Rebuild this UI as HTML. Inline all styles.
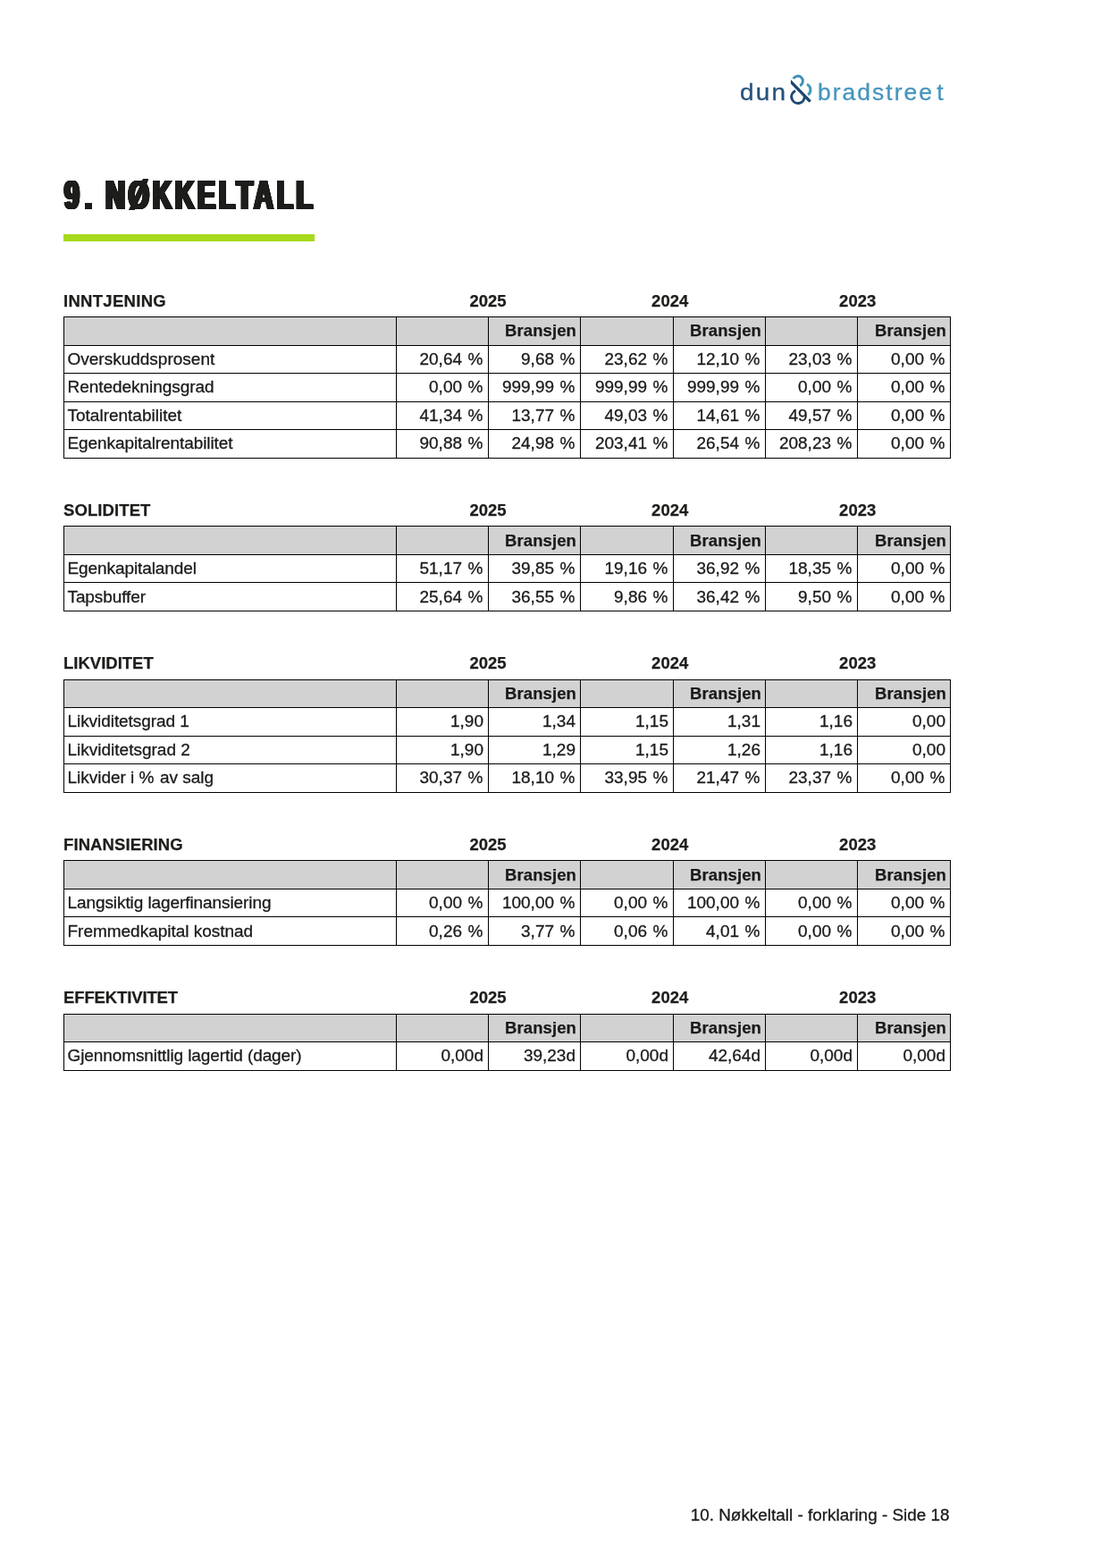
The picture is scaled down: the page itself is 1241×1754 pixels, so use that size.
<!DOCTYPE html>
<html lang="no"><head><meta charset="utf-8"><title>9. Nøkkeltall</title>
<style>
html,body{margin:0;padding:0;background:#fff;}
body{width:1241px;height:1754px;position:relative;overflow:hidden;font-family:"Liberation Sans",sans-serif;color:#1d1d1b;}
.abs{position:absolute;}
h1{position:absolute;left:72.1px;top:187.0px;margin:0;font-size:45.8px;line-height:64px;font-weight:bold;color:#1d1d1b;white-space:nowrap;transform-origin:0 50%;transform:scaleX(0.655);letter-spacing:5.55px;word-spacing:-0.7px;text-shadow:-2.5px -0.4px 0 #1d1d1b,-2.0px -0.4px 0 #1d1d1b,-1.5px -0.4px 0 #1d1d1b,-1.0px -0.4px 0 #1d1d1b,-0.5px -0.4px 0 #1d1d1b,0.0px -0.4px 0 #1d1d1b,0.5px -0.4px 0 #1d1d1b,1.0px -0.4px 0 #1d1d1b,1.5px -0.4px 0 #1d1d1b,2.0px -0.4px 0 #1d1d1b,2.5px -0.4px 0 #1d1d1b,-2.5px 0.4px 0 #1d1d1b,-2.0px 0.4px 0 #1d1d1b,-1.5px 0.4px 0 #1d1d1b,-1.0px 0.4px 0 #1d1d1b,-0.5px 0.4px 0 #1d1d1b,0.0px 0.4px 0 #1d1d1b,0.5px 0.4px 0 #1d1d1b,1.0px 0.4px 0 #1d1d1b,1.5px 0.4px 0 #1d1d1b,2.0px 0.4px 0 #1d1d1b,2.5px 0.4px 0 #1d1d1b,-2.5px 0.0px 0 #1d1d1b,-2.0px 0.0px 0 #1d1d1b,-1.5px 0.0px 0 #1d1d1b,-1.0px 0.0px 0 #1d1d1b,-0.5px 0.0px 0 #1d1d1b,0.5px 0.0px 0 #1d1d1b,1.0px 0.0px 0 #1d1d1b,1.5px 0.0px 0 #1d1d1b,2.0px 0.0px 0 #1d1d1b,2.5px 0.0px 0 #1d1d1b;}
.bar{position:absolute;left:71px;top:262px;width:281px;height:8px;background:#a6da1c;}
.sec{position:absolute;left:0;width:1241px;}
.lbl{position:absolute;font-weight:bold;font-size:18.5px;line-height:22px;white-space:nowrap;color:#1d1d1b;-webkit-text-stroke:0.25px #1d1d1b;}
.yr{position:absolute;font-weight:bold;font-size:18.5px;line-height:22px;width:100px;text-align:center;color:#1d1d1b;-webkit-text-stroke:0.25px #1d1d1b;}
.hl{position:absolute;height:1px;background:#000;}
.vl{position:absolute;width:1px;background:#000;}
.hd{position:absolute;background:#d2d2d2;}
.c{position:absolute;font-size:19px;line-height:22px;white-space:nowrap;color:#1a1a1a;-webkit-text-stroke:0.3px #1a1a1a;}
.r{text-align:right;}
.p{word-spacing:1.3px;}
.b{font-weight:bold;font-size:18.5px;letter-spacing:0.1px;-webkit-text-stroke:0.25px #1d1d1b;}
.logo{position:absolute;left:0;top:0;width:1241px;height:140px;}
.lg{position:absolute;top:86px;font-size:25px;line-height:34px;white-space:nowrap;transform-origin:0 50%;-webkit-text-stroke:0.3px;}
.dun{left:827.8px;color:#27527b;letter-spacing:1.9px;transform:scaleX(1.12);}
.brad{left:914.6px;color:#4795bd;letter-spacing:1.9px;transform:scaleX(1.06);}
.amp{position:absolute;left:880px;top:78px;}
.foot{position:absolute;right:178.5px;top:1684px;font-size:18.9px;line-height:22px;color:#1a1a1a;-webkit-text-stroke:0.3px #1a1a1a;white-space:nowrap;}
</style></head><body>
<div class="logo">
<span class="lg dun">dun</span>
<svg class="amp" width="34" height="44" viewBox="880 78 34 44" aria-label="&amp;">
<path d="M887.79,88.04 A5.64,5.64 0 1 1 895.14,95.82" fill="none" stroke="#3d8dba" stroke-width="2.9"/>
<path d="M902.99,94.24 A6.93,6.93 0 0 1 904.2,106.03" fill="none" stroke="#4199b4" stroke-width="3"/>
<path d="M890.07,101.59 A7.25,7.25 0 1 0 900.22,108.23" fill="none" stroke="#1f4b74" stroke-width="3"/>
<path d="M884.91,89.09 L907.87,112.46 L905.46,114.68 L884.91,93.73 Z" fill="#1d4670"/>
</svg>
<span class="lg brad">bradstree<span style="margin-left:3px">t</span></span>
</div>
<h1><span style="letter-spacing:9.3px">9</span>. NØKKELTALL</h1><div class="bar"></div>
<div class="sec" style="top:324px;height:189px">
<div class="lbl" style="left:71px;top:2px;letter-spacing:0.3px">INNTJENING</div>
<div class="yr" style="left:496px;top:2px">2025</div>
<div class="yr" style="left:699.7px;top:2px">2024</div>
<div class="yr" style="left:909.7px;top:2px">2023</div>
<div class="hd" style="left:71px;top:30px;width:992px;height:32px"></div>
<div class="hl" style="left:71px;top:30px;width:993px"></div>
<div class="hl" style="left:71px;top:62px;width:993px"></div>
<div class="hl" style="left:71px;top:93px;width:993px"></div>
<div class="hl" style="left:71px;top:125px;width:993px"></div>
<div class="hl" style="left:71px;top:156px;width:993px"></div>
<div class="hl" style="left:71px;top:188px;width:993px"></div>
<div class="vl" style="left:71px;top:30px;height:159px"></div>
<div class="vl" style="left:443px;top:30px;height:159px"></div>
<div class="vl" style="left:546px;top:30px;height:159px"></div>
<div class="vl" style="left:649px;top:30px;height:159px"></div>
<div class="vl" style="left:753px;top:30px;height:159px"></div>
<div class="vl" style="left:856px;top:30px;height:159px"></div>
<div class="vl" style="left:959px;top:30px;height:159px"></div>
<div class="vl" style="left:1063px;top:30px;height:159px"></div>
<div class="c r b" style="left:546px;width:99px;top:35px">Bransjen</div>
<div class="c r b" style="left:753px;width:99px;top:35px">Bransjen</div>
<div class="c r b" style="left:959px;width:100px;top:35px">Bransjen</div>
<div class="c" style="left:75.5px;top:67px">Overskuddsprosent</div>
<div class="c r p" style="left:443px;width:97.5px;top:67px">20,64 %</div>
<div class="c r p" style="left:546px;width:97.5px;top:67px">9,68 %</div>
<div class="c r p" style="left:649px;width:98.5px;top:67px">23,62 %</div>
<div class="c r p" style="left:753px;width:97.5px;top:67px">12,10 %</div>
<div class="c r p" style="left:856px;width:97.5px;top:67px">23,03 %</div>
<div class="c r p" style="left:959px;width:98.5px;top:67px">0,00 %</div>
<div class="c" style="left:75.5px;top:98px;letter-spacing:-0.04px">Rentedekningsgrad</div>
<div class="c r p" style="left:443px;width:97.5px;top:98px">0,00 %</div>
<div class="c r p" style="left:546px;width:97.5px;top:98px">999,99 %</div>
<div class="c r p" style="left:649px;width:98.5px;top:98px">999,99 %</div>
<div class="c r p" style="left:753px;width:97.5px;top:98px">999,99 %</div>
<div class="c r p" style="left:856px;width:97.5px;top:98px">0,00 %</div>
<div class="c r p" style="left:959px;width:98.5px;top:98px">0,00 %</div>
<div class="c" style="left:75.5px;top:130px">Totalrentabilitet</div>
<div class="c r p" style="left:443px;width:97.5px;top:130px">41,34 %</div>
<div class="c r p" style="left:546px;width:97.5px;top:130px">13,77 %</div>
<div class="c r p" style="left:649px;width:98.5px;top:130px">49,03 %</div>
<div class="c r p" style="left:753px;width:97.5px;top:130px">14,61 %</div>
<div class="c r p" style="left:856px;width:97.5px;top:130px">49,57 %</div>
<div class="c r p" style="left:959px;width:98.5px;top:130px">0,00 %</div>
<div class="c" style="left:75.5px;top:161px;letter-spacing:-0.09px">Egenkapitalrentabilitet</div>
<div class="c r p" style="left:443px;width:97.5px;top:161px">90,88 %</div>
<div class="c r p" style="left:546px;width:97.5px;top:161px">24,98 %</div>
<div class="c r p" style="left:649px;width:98.5px;top:161px">203,41 %</div>
<div class="c r p" style="left:753px;width:97.5px;top:161px">26,54 %</div>
<div class="c r p" style="left:856px;width:97.5px;top:161px">208,23 %</div>
<div class="c r p" style="left:959px;width:98.5px;top:161px">0,00 %</div>
</div>
<div class="sec" style="top:558px;height:126px">
<div class="lbl" style="left:71px;top:2px;letter-spacing:0.1px">SOLIDITET</div>
<div class="yr" style="left:496px;top:2px">2025</div>
<div class="yr" style="left:699.7px;top:2px">2024</div>
<div class="yr" style="left:909.7px;top:2px">2023</div>
<div class="hd" style="left:71px;top:30px;width:992px;height:32px"></div>
<div class="hl" style="left:71px;top:30px;width:993px"></div>
<div class="hl" style="left:71px;top:62px;width:993px"></div>
<div class="hl" style="left:71px;top:93px;width:993px"></div>
<div class="hl" style="left:71px;top:125px;width:993px"></div>
<div class="vl" style="left:71px;top:30px;height:96px"></div>
<div class="vl" style="left:443px;top:30px;height:96px"></div>
<div class="vl" style="left:546px;top:30px;height:96px"></div>
<div class="vl" style="left:649px;top:30px;height:96px"></div>
<div class="vl" style="left:753px;top:30px;height:96px"></div>
<div class="vl" style="left:856px;top:30px;height:96px"></div>
<div class="vl" style="left:959px;top:30px;height:96px"></div>
<div class="vl" style="left:1063px;top:30px;height:96px"></div>
<div class="c r b" style="left:546px;width:99px;top:36px">Bransjen</div>
<div class="c r b" style="left:753px;width:99px;top:36px">Bransjen</div>
<div class="c r b" style="left:959px;width:100px;top:36px">Bransjen</div>
<div class="c" style="left:75.5px;top:67px;letter-spacing:-0.09px">Egenkapitalandel</div>
<div class="c r p" style="left:443px;width:97.5px;top:67px">51,17 %</div>
<div class="c r p" style="left:546px;width:97.5px;top:67px">39,85 %</div>
<div class="c r p" style="left:649px;width:98.5px;top:67px">19,16 %</div>
<div class="c r p" style="left:753px;width:97.5px;top:67px">36,92 %</div>
<div class="c r p" style="left:856px;width:97.5px;top:67px">18,35 %</div>
<div class="c r p" style="left:959px;width:98.5px;top:67px">0,00 %</div>
<div class="c" style="left:75.5px;top:99px;letter-spacing:-0.1px">Tapsbuffer</div>
<div class="c r p" style="left:443px;width:97.5px;top:99px">25,64 %</div>
<div class="c r p" style="left:546px;width:97.5px;top:99px">36,55 %</div>
<div class="c r p" style="left:649px;width:98.5px;top:99px">9,86 %</div>
<div class="c r p" style="left:753px;width:97.5px;top:99px">36,42 %</div>
<div class="c r p" style="left:856px;width:97.5px;top:99px">9,50 %</div>
<div class="c r p" style="left:959px;width:98.5px;top:99px">0,00 %</div>
</div>
<div class="sec" style="top:730px;height:157px">
<div class="lbl" style="left:71px;top:1px;letter-spacing:0.0px">LIKVIDITET</div>
<div class="yr" style="left:496px;top:1px">2025</div>
<div class="yr" style="left:699.7px;top:1px">2024</div>
<div class="yr" style="left:909.7px;top:1px">2023</div>
<div class="hd" style="left:71px;top:30px;width:992px;height:31px"></div>
<div class="hl" style="left:71px;top:30px;width:993px"></div>
<div class="hl" style="left:71px;top:61px;width:993px"></div>
<div class="hl" style="left:71px;top:93px;width:993px"></div>
<div class="hl" style="left:71px;top:124px;width:993px"></div>
<div class="hl" style="left:71px;top:156px;width:993px"></div>
<div class="vl" style="left:71px;top:30px;height:127px"></div>
<div class="vl" style="left:443px;top:30px;height:127px"></div>
<div class="vl" style="left:546px;top:30px;height:127px"></div>
<div class="vl" style="left:649px;top:30px;height:127px"></div>
<div class="vl" style="left:753px;top:30px;height:127px"></div>
<div class="vl" style="left:856px;top:30px;height:127px"></div>
<div class="vl" style="left:959px;top:30px;height:127px"></div>
<div class="vl" style="left:1063px;top:30px;height:127px"></div>
<div class="c r b" style="left:546px;width:99px;top:35px">Bransjen</div>
<div class="c r b" style="left:753px;width:99px;top:35px">Bransjen</div>
<div class="c r b" style="left:959px;width:100px;top:35px">Bransjen</div>
<div class="c" style="left:75.5px;top:66px;letter-spacing:-0.06px">Likviditetsgrad 1</div>
<div class="c r" style="left:443px;width:98px;top:66px">1,90</div>
<div class="c r" style="left:546px;width:98px;top:66px">1,34</div>
<div class="c r" style="left:649px;width:99px;top:66px">1,15</div>
<div class="c r" style="left:753px;width:98px;top:66px">1,31</div>
<div class="c r" style="left:856px;width:98px;top:66px">1,16</div>
<div class="c r" style="left:959px;width:99px;top:66px">0,00</div>
<div class="c" style="left:75.5px;top:98px">Likviditetsgrad 2</div>
<div class="c r" style="left:443px;width:98px;top:98px">1,90</div>
<div class="c r" style="left:546px;width:98px;top:98px">1,29</div>
<div class="c r" style="left:649px;width:99px;top:98px">1,15</div>
<div class="c r" style="left:753px;width:98px;top:98px">1,26</div>
<div class="c r" style="left:856px;width:98px;top:98px">1,16</div>
<div class="c r" style="left:959px;width:99px;top:98px">0,00</div>
<div class="c" style="left:75.5px;top:129px;letter-spacing:-0.02px">Likvider i <span class="p">% </span>av salg</div>
<div class="c r p" style="left:443px;width:97.5px;top:129px">30,37 %</div>
<div class="c r p" style="left:546px;width:97.5px;top:129px">18,10 %</div>
<div class="c r p" style="left:649px;width:98.5px;top:129px">33,95 %</div>
<div class="c r p" style="left:753px;width:97.5px;top:129px">21,47 %</div>
<div class="c r p" style="left:856px;width:97.5px;top:129px">23,37 %</div>
<div class="c r p" style="left:959px;width:98.5px;top:129px">0,00 %</div>
</div>
<div class="sec" style="top:932px;height:126px">
<div class="lbl" style="left:71px;top:2px;letter-spacing:0.1px">FINANSIERING</div>
<div class="yr" style="left:496px;top:2px">2025</div>
<div class="yr" style="left:699.7px;top:2px">2024</div>
<div class="yr" style="left:909.7px;top:2px">2023</div>
<div class="hd" style="left:71px;top:30px;width:992px;height:32px"></div>
<div class="hl" style="left:71px;top:30px;width:993px"></div>
<div class="hl" style="left:71px;top:62px;width:993px"></div>
<div class="hl" style="left:71px;top:93px;width:993px"></div>
<div class="hl" style="left:71px;top:125px;width:993px"></div>
<div class="vl" style="left:71px;top:30px;height:96px"></div>
<div class="vl" style="left:443px;top:30px;height:96px"></div>
<div class="vl" style="left:546px;top:30px;height:96px"></div>
<div class="vl" style="left:649px;top:30px;height:96px"></div>
<div class="vl" style="left:753px;top:30px;height:96px"></div>
<div class="vl" style="left:856px;top:30px;height:96px"></div>
<div class="vl" style="left:959px;top:30px;height:96px"></div>
<div class="vl" style="left:1063px;top:30px;height:96px"></div>
<div class="c r b" style="left:546px;width:99px;top:36px">Bransjen</div>
<div class="c r b" style="left:753px;width:99px;top:36px">Bransjen</div>
<div class="c r b" style="left:959px;width:100px;top:36px">Bransjen</div>
<div class="c" style="left:75.5px;top:67px;letter-spacing:-0.085px">Langsiktig lagerfinansiering</div>
<div class="c r p" style="left:443px;width:97.5px;top:67px">0,00 %</div>
<div class="c r p" style="left:546px;width:97.5px;top:67px">100,00 %</div>
<div class="c r p" style="left:649px;width:98.5px;top:67px">0,00 %</div>
<div class="c r p" style="left:753px;width:97.5px;top:67px">100,00 %</div>
<div class="c r p" style="left:856px;width:97.5px;top:67px">0,00 %</div>
<div class="c r p" style="left:959px;width:98.5px;top:67px">0,00 %</div>
<div class="c" style="left:75.5px;top:99px;letter-spacing:-0.02px">Fremmedkapital kostnad</div>
<div class="c r p" style="left:443px;width:97.5px;top:99px">0,26 %</div>
<div class="c r p" style="left:546px;width:97.5px;top:99px">3,77 %</div>
<div class="c r p" style="left:649px;width:98.5px;top:99px">0,06 %</div>
<div class="c r p" style="left:753px;width:97.5px;top:99px">4,01 %</div>
<div class="c r p" style="left:856px;width:97.5px;top:99px">0,00 %</div>
<div class="c r p" style="left:959px;width:98.5px;top:99px">0,00 %</div>
</div>
<div class="sec" style="top:1104px;height:94px">
<div class="lbl" style="left:71px;top:1px;letter-spacing:-0.13px">EFFEKTIVITET</div>
<div class="yr" style="left:496px;top:1px">2025</div>
<div class="yr" style="left:699.7px;top:1px">2024</div>
<div class="yr" style="left:909.7px;top:1px">2023</div>
<div class="hd" style="left:71px;top:30px;width:992px;height:31px"></div>
<div class="hl" style="left:71px;top:30px;width:993px"></div>
<div class="hl" style="left:71px;top:61px;width:993px"></div>
<div class="hl" style="left:71px;top:93px;width:993px"></div>
<div class="vl" style="left:71px;top:30px;height:64px"></div>
<div class="vl" style="left:443px;top:30px;height:64px"></div>
<div class="vl" style="left:546px;top:30px;height:64px"></div>
<div class="vl" style="left:649px;top:30px;height:64px"></div>
<div class="vl" style="left:753px;top:30px;height:64px"></div>
<div class="vl" style="left:856px;top:30px;height:64px"></div>
<div class="vl" style="left:959px;top:30px;height:64px"></div>
<div class="vl" style="left:1063px;top:30px;height:64px"></div>
<div class="c r b" style="left:546px;width:99px;top:35px">Bransjen</div>
<div class="c r b" style="left:753px;width:99px;top:35px">Bransjen</div>
<div class="c r b" style="left:959px;width:100px;top:35px">Bransjen</div>
<div class="c" style="left:75.5px;top:66px;letter-spacing:-0.095px">Gjennomsnittlig lagertid (dager)</div>
<div class="c r" style="left:443px;width:98px;top:66px">0,00d</div>
<div class="c r" style="left:546px;width:98px;top:66px">39,23d</div>
<div class="c r" style="left:649px;width:99px;top:66px">0,00d</div>
<div class="c r" style="left:753px;width:98px;top:66px">42,64d</div>
<div class="c r" style="left:856px;width:98px;top:66px">0,00d</div>
<div class="c r" style="left:959px;width:99px;top:66px">0,00d</div>
</div>
<div class="foot">10. Nøkkeltall - forklaring - Side 18</div>
</body></html>
